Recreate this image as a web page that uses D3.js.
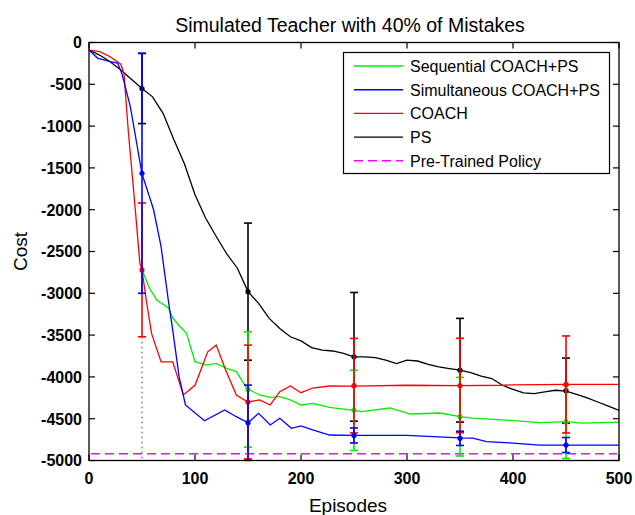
<!DOCTYPE html>
<html><head><meta charset="utf-8">
<script src="https://cdn.jsdelivr.net/npm/d3@7"></script>
<style>
html,body{margin:0;padding:0;background:#fff;}
svg text{font-family:"Liberation Sans",Arial,sans-serif;}
</style></head>
<body>
<svg id="chart" width="635" height="515"></svg>
<script>
// ---------------- DATA ----------------
const title = "Simulated Teacher with 40% of Mistakes";
const xLabel = "Episodes";
const yLabel = "Cost";
const xTicks = [0, 100, 200, 300, 400, 500];
const yTicks = [0, -500, -1000, -1500, -2000, -2500, -3000, -3500, -4000, -4500, -5000];

const seriesNames = ["Sequential COACH+PS", "Simultaneous COACH+PS", "COACH", "PS", "Pre-Trained Policy"];

// PS (black)
const psX = [0,10,20,30,40,50,60,70,80,90,100,110,120,130,140,150,160,170,180,190,200,210,220,230,240,250,260,270,280,290,300,310,320,330,340,350,360,370,380,390,400,410,420,430,440,450,460,470,480,490,500];
const psY = [-90,-150,-230,-330,-440,-550,-650,-850,-1160,-1450,-1820,-2100,-2320,-2530,-2700,-2980,-3120,-3300,-3420,-3520,-3570,-3650,-3680,-3690,-3720,-3760,-3760,-3770,-3800,-3840,-3800,-3810,-3850,-3880,-3900,-3920,-3950,-3990,-4020,-4100,-4150,-4190,-4200,-4180,-4160,-4170,-4210,-4250,-4300,-4350,-4400];

// COACH (red)
const coachX = [0,10,20,30,33,37,43,48,50,54,59,68,79,89,100,112,120,129,139,150,161,171,180,190,200,211,227,250,300,350,390,400,450,500];
const coachY = [-90,-110,-170,-260,-370,-1050,-1900,-2640,-2720,-3080,-3480,-3820,-3820,-4216,-4100,-3700,-3620,-3920,-4216,-4300,-4276,-4336,-4177,-4109,-4189,-4133,-4109,-4110,-4100,-4105,-4100,-4095,-4090,-4090];

// Simultaneous COACH+PS (blue)
const simX = [0,8,20,27,31,39,50,56,61,68,75,79,85,91,109,128,139,150,160,171,180,191,200,211,227,250,300,350,362,375,397,425,500];
const simY = [-90,-186,-229,-246,-370,-768,-1570,-1805,-2004,-2442,-3100,-3440,-3997,-4336,-4524,-4396,-4476,-4548,-4436,-4575,-4495,-4615,-4587,-4635,-4695,-4700,-4700,-4730,-4732,-4775,-4790,-4815,-4815];

// Sequential COACH+PS (green)
const seqX = [50,57,64,75,79,86,92,100,111,120,130,139,149,161,171,180,190,200,211,227,250,257,284,303,331,350,362,394,425,450,466,500];
const seqY = [-2720,-2937,-3080,-3176,-3296,-3400,-3479,-3818,-3858,-3838,-3897,-3937,-4140,-4216,-4244,-4236,-4276,-4336,-4316,-4364,-4400,-4416,-4372,-4444,-4432,-4476,-4492,-4516,-4548,-4536,-4552,-4540];

// Error bars: episode, mean, half-width
const errX = [50, 150, 250, 350, 450];
const psErrMean = [-550, -2980, -3760, -3920, -4165];
const psErr = [420, 820, 770, 620, 390];
const coachErrMean = [-2720, -4300, -4105, -4103, -4090];
const coachErr = [800, 680, 565, 565, 580];
const simErrMean = [-1565, -4548, -4700, -4735, -4815];
const simErr = [1435, 450, 90, 85, 90];
const seqErrX = [150, 250, 350, 450];
const seqErrMean = [-4150, -4400, -4476, -4536];
const seqErr = [690, 480, 470, 440];

// Pre-trained policy level
const preTrained = -4920;
// dotted marker line at episode 50
const dottedX = 50, dottedTop = -3520, dottedBottom = -5000;

// ---------------- DRAW ----------------
const svg = d3.select("#chart");
const L = 89, R = 619, T = 42.5, B = 460.5;
const x = d3.scaleLinear().domain([0, 500]).range([L, R]);
const y = d3.scaleLinear().domain([-5000, 0]).range([B, T]);

const colors = {seq: "#00ee00", sim: "#0000ff", coach: "#ff0000", ps: "#000000", pre: "#ff00ff"};

// Title
svg.append("text").attr("x", 350).attr("y", 32).attr("text-anchor", "middle")
  .attr("font-size", 19.5).text(title);

// Pre-trained dashed
svg.append("line").attr("x1", x(0) + 2).attr("x2", x(500) - 2)
  .attr("y1", y(preTrained)).attr("y2", y(preTrained))
  .attr("stroke", colors.pre).attr("stroke-width", 1.4).attr("stroke-dasharray", "9,5");

// dotted line
svg.append("line").attr("x1", x(dottedX)).attr("x2", x(dottedX))
  .attr("y1", y(dottedTop)).attr("y2", y(dottedBottom))
  .attr("stroke", "#555").attr("stroke-width", 1.2).attr("stroke-dasharray", "1.5,3.5");

const line = d3.line().x(d => x(d[0])).y(d => y(d[1]));

function drawSeries(xs, ys, ex, em, ee, color) {
  const g = svg.append("g");
  g.append("path").datum(xs.map((v, i) => [v, ys[i]]))
    .attr("d", line).attr("fill", "none").attr("stroke", color).attr("stroke-width", 1.3);
  ex.forEach((xv, i) => {
    const cx = x(xv), top = y(em[i] + ee[i]), bot = y(em[i] - ee[i]);
    g.append("line").attr("x1", cx).attr("x2", cx).attr("y1", top).attr("y2", bot)
      .attr("stroke", color).attr("stroke-width", 1.6);
    [top, bot].forEach(yy => g.append("line").attr("x1", cx - 4).attr("x2", cx + 4)
      .attr("y1", yy).attr("y2", yy).attr("stroke", color).attr("stroke-width", 1.6));
    g.append("circle").attr("cx", cx).attr("cy", y(em[i])).attr("r", 2.6).attr("fill", color);
  });
}
drawSeries(psX, psY, errX, psErrMean, psErr, colors.ps);
drawSeries(seqX, seqY, seqErrX, seqErrMean, seqErr, colors.seq);
drawSeries(coachX, coachY, errX, coachErrMean, coachErr, colors.coach);
drawSeries(simX, simY, errX, simErrMean, simErr, colors.sim);

// Axes box
svg.append("rect").attr("x", L).attr("y", T).attr("width", R - L).attr("height", B - T)
  .attr("fill", "none").attr("stroke", "#000").attr("stroke-width", 1.3);

const tickLen = 6;
const ax = svg.append("g").attr("stroke", "#000").attr("stroke-width", 1.2);
xTicks.forEach(t => {
  ax.append("line").attr("x1", x(t)).attr("x2", x(t)).attr("y1", B).attr("y2", B - tickLen);
  ax.append("line").attr("x1", x(t)).attr("x2", x(t)).attr("y1", T).attr("y2", T + tickLen);
});
yTicks.forEach(t => {
  ax.append("line").attr("x1", L).attr("x2", L + tickLen).attr("y1", y(t)).attr("y2", y(t));
  ax.append("line").attr("x1", R).attr("x2", R - tickLen).attr("y1", y(t)).attr("y2", y(t));
});
xTicks.forEach(t => svg.append("text").attr("x", x(t)).attr("y", 484)
  .attr("text-anchor", "middle").attr("font-size", 16).attr("font-weight", "bold").text(t));
yTicks.forEach(t => svg.append("text").attr("x", 82).attr("y", y(t) + 5.8)
  .attr("text-anchor", "end").attr("font-size", 16).attr("font-weight", "bold").text(t));

// Axis labels
svg.append("text").attr("x", 348).attr("y", 512).attr("text-anchor", "middle")
  .attr("font-size", 19).text(xLabel);
svg.append("text").attr("transform", `translate(27,${(T + B) / 2}) rotate(-90)`)
  .attr("text-anchor", "middle").attr("font-size", 19).text(yLabel);

// Legend
const lg = svg.append("g");
lg.append("rect").attr("x", 343.5).attr("y", 52.5).attr("width", 266).attr("height", 121)
  .attr("fill", "#fff").attr("stroke", "#000").attr("stroke-width", 1.2);
const legColors = [colors.seq, colors.sim, colors.coach, colors.ps, colors.pre];
seriesNames.forEach((n, i) => {
  const yy = 66 + i * 23.7;
  lg.append("line").attr("x1", 354).attr("x2", 403).attr("y1", yy).attr("y2", yy)
    .attr("stroke", legColors[i]).attr("stroke-width", 1.4)
    .attr("stroke-dasharray", i === 4 ? "9,5" : null);
  lg.append("text").attr("x", 410).attr("y", yy + 6).attr("font-size", 16).text(n);
});
</script>
</body></html>
